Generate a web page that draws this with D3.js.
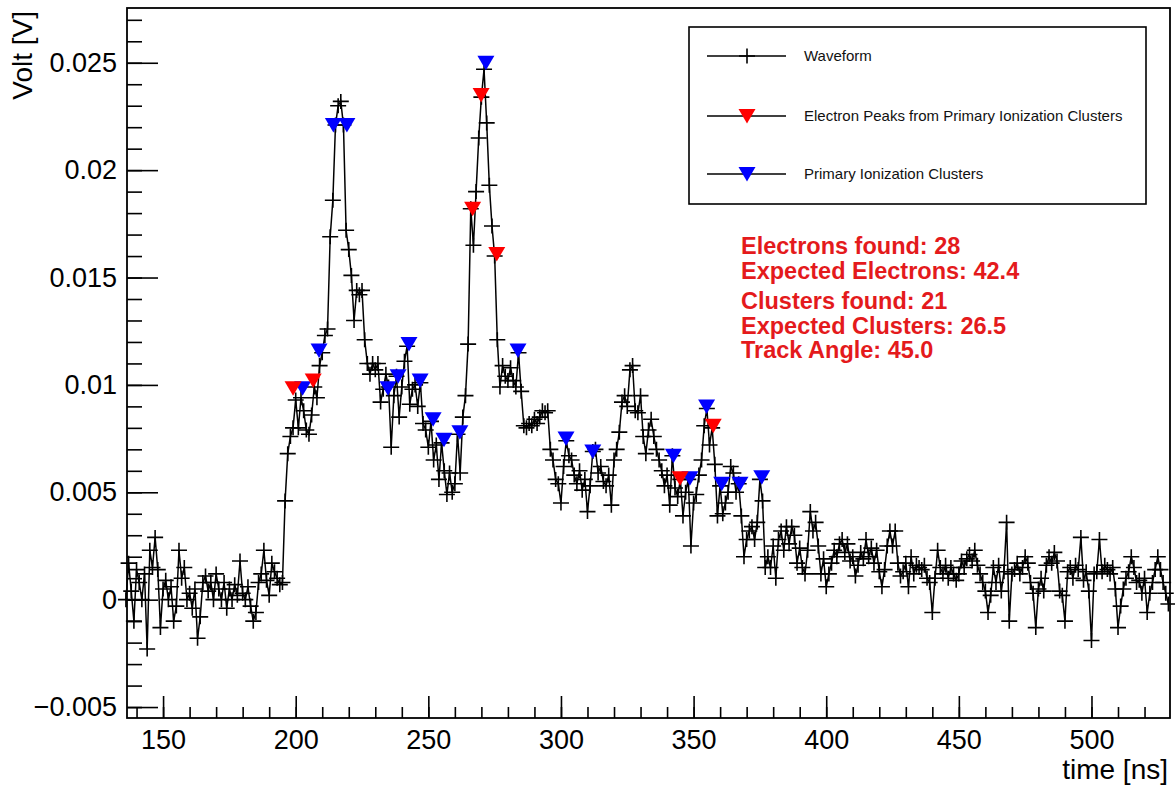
<!DOCTYPE html>
<html>
<head>
<meta charset="utf-8">
<script src="https://cdnjs.cloudflare.com/ajax/libs/d3/7.8.5/d3.min.js"></script>
<style>
  body { margin: 0; background: #fff; }
  svg text { font-family: "Liberation Sans", Arial, Helvetica, sans-serif; }
</style>
</head>
<body>
<div id="chart"></div>
<script>
// waveform sampling (ns) and samples in mV
const t0 = 136;
const dt = 1;
const waveform = [
  0.0, 1.7, 0.4, -1.0, 1.4, 0.8, 0.0, 1.2, -2.3, 2.3,
  1.5, 2.9, 1.4, -1.3, 0.5, 0.9, 0.0, 0.6, -1.0, -0.3,
  2.3, 1.0, 1.5, 0.0, 0.3, -0.4, 0.5, -1.8, -0.8, 0.8,
  1.1, 0.4, 0.8, 0.0, 1.2, 0.5, 0.0, 0.8, -0.4, 0.5,
  0.0, 0.7, 0.2, 1.8, 0.3, 0.0, 0.6, -0.3, -1.0, -0.6,
  0.8, 1.2, 2.3, 0.9, 0.2, 1.7, 1.3, 1.0, 0.7, 0.8,      // 136-195
  4.6, 6.8, 7.6, 8.0, 9.3, 8.0, 9.4, 8.8, 7.9, 7.7,      // 196-205
  8.6, 9.9, 9.4, 10.9, 11.5, 12.3, 12.6, 16.9, 18.6, 22.1,
  23.0, 23.2, 22.1, 17.2, 16.3, 15.1, 13.0, 14.4, 14.2, 14.4,
  12.1, 11.0, 10.5, 11.0, 10.7, 11.0, 9.2, 9.8, 10.5, 9.9,
  7.1, 9.5, 10.4, 8.5, 9.9, 11.1, 11.8, 9.1, 9.8, 10.0,  // 236-245
  9.0, 10.1, 8.2, 7.9, 7.1, 8.3, 6.5, 7.2, 5.6, 7.3,
  6.0, 4.9, 5.9, 5.0, 5.4, 7.7, 5.9, 8.5, 9.5, 11.9,
  18.2, 16.5, 19.0, 21.5, 23.4, 24.7, 22.2, 19.3, 17.4, 16.0,  // 266-275
  12.1, 9.9, 10.9, 10.4, 10.2, 10.8, 10.2, 9.9, 11.5, 9.7,
  8.1, 8.0, 8.2, 8.1, 8.4, 8.2, 8.5, 8.8, 8.7, 8.8,
  7.0, 6.5, 5.6, 5.4, 4.5, 6.2, 7.4, 6.7, 6.5, 5.8,      // 296-305
  5.4, 6.0, 5.1, 5.6, 4.1, 5.3, 6.9, 7.0, 5.9, 6.2,
  5.5, 5.3, 5.8, 4.4, 6.5, 7.0, 7.8, 9.2, 9.5, 9.0,
  10.7, 10.9, 8.8, 8.7, 9.5, 7.6, 6.8, 7.9, 8.4, 7.6,    // 326-335
  7.0, 6.5, 6.0, 5.3, 5.8, 4.4, 6.7, 5.2, 4.8, 5.6,
  3.9, 5.0, 5.6, 2.5, 4.5, 4.9, 5.8, 6.5, 8.1, 8.9,
  7.2, 8.0, 6.3, 3.9, 5.3, 4.0, 4.5, 5.0, 6.2, 5.9,      // 356-365
  5.0, 5.4, 3.9, 2.0, 2.8, 3.2, 3.4, 2.8, 3.6, 5.6,
  4.6, 1.5, 2.0, 1.5, 2.5, 1.0, 2.8, 3.2, 2.3, 3.4,
  2.6, 3.4, 3.0, 1.7, 2.4, 1.5, 1.2, 2.3, 4.1, 3.2,      // 386-395
  3.6, 2.5, 1.2, 1.9, 0.6, 1.2, 1.7, 2.3, 2.0, 2.6,
  2.8, 2.2, 2.6, 1.8, 2.0, 1.1, 1.6, 2.2, 1.9, 2.8,
  2.0, 2.4, 1.7, 2.3, 1.3, 0.6, 1.4, 2.5, 3.2, 2.5,      // 416-425
  3.2, 1.7, 1.1, 1.3, 1.7, 0.6, 2.0, 1.2, 1.6, 1.5,
  1.4, 1.6, 1.0, 0.8, -0.6, 1.0, 2.3, 1.5, 1.2, 1.6,
  1.0, 1.5, 1.2, 0.9, 1.2, 1.8, 1.5, 1.9, 2.1, 1.8,      // 446-455
  2.3, 1.6, 1.2, 0.8, 0.4, -0.6, 0.2, 1.5, 0.8, 1.6,
  0.4, 1.3, 3.6, -1.0, 1.2, 1.4, 1.7, 1.2, 1.5, 2.0,
  1.7, 0.8, 0.3, -1.3, 0.5, 1.0, 0.4, 1.6, 2.0, 1.7,     // 476-485
  2.2, 1.8, 0.4, 0.2, -1.0, 1.3, 1.5, 1.0, 1.6, 1.4,
  2.9, 0.9, 1.3, 0.4, -1.9, 1.2, 1.3, 2.8, 1.3, 1.6,
  1.4, 1.2, 1.5, 0.5, -1.3, -0.3, 0.5, 1.0, 1.3, 2.0,    // 506-515
  1.5, 0.8, 0.9, 0.3, 1.0, -0.6, 0.3, 0.8, 1.4, 2.0,
  1.4, 0.8, 0.3, -0.2                                     // 526-529
];

// electron peaks (red) and primary ionization clusters (blue): time ns, mV
const electronT = [199.0, 206.6, 266.7, 269.9, 275.8, 344.9, 357.4];
const electronV = [9.85, 10.2, 18.2, 23.5, 16.1, 5.65, 8.1];
const clusterT = [202.6, 208.8, 214.2, 219.3, 234.8, 238.6, 242.7, 246.9, 251.8, 255.9, 261.9,
                  271.7, 283.8, 301.9, 312.0, 342.4, 348.6, 354.9, 360.6, 367.5, 375.7];
const clusterV = [9.85, 11.6, 22.1, 22.1, 9.85, 10.4, 11.9, 10.2, 8.4, 7.45, 7.8,
                  25.0, 11.6, 7.5, 6.9, 6.7, 5.65, 9.0, 5.4, 5.4, 5.7];

const legendLabels = ["Waveform", "Electron Peaks from Primary Ionization Clusters", "Primary Ionization Clusters"];
const infoLines = ["Electrons found: 28", "Expected Electrons: 42.4", "Clusters found: 21",
                   "Expected Clusters: 26.5", "Track Angle: 45.0"];

const xMajor = [150, 200, 250, 300, 350, 400, 450, 500];
const yMajor = [-5, 0, 5, 10, 15, 20, 25];

const W = 1175, H = 787;
const frame = { left: 127, right: 1170, top: 8, bottom: 718 };

const x = d3.scaleLinear().domain([136.4, 529.6]).range([frame.left, frame.right]);
const y = d3.scaleLinear().domain([-5.51, 27.55]).range([frame.bottom, frame.top]);

const svg = d3.select("#chart").append("svg")
  .attr("width", W)
  .attr("height", H);

// minor ticks first, then majors with labels
const xMinor = d3.range(140, 530, 10);
const yMinor = d3.range(-5, 28, 1);

svg.append("g")
  .attr("transform", `translate(0,${frame.bottom})`)
  .call(d3.axisBottom(x).tickValues(xMinor).tickSize(-11).tickFormat(""))
  .call(g => g.select(".domain").remove());
svg.append("g")
  .attr("class", "xaxis")
  .attr("transform", `translate(0,${frame.bottom})`)
  .call(d3.axisBottom(x).tickValues(xMajor).tickSize(-22).tickPadding(12))
  .call(g => g.select(".domain").remove());

const fmtV = d => d === 0 ? "0" : String(+(d / 1000).toFixed(3)).replace("-", "\u2212");
svg.append("g")
  .attr("transform", `translate(${frame.left},0)`)
  .call(d3.axisLeft(y).tickValues(yMinor).tickSize(-15).tickFormat(""))
  .call(g => g.select(".domain").remove());
svg.append("g")
  .attr("class", "yaxis")
  .attr("transform", `translate(${frame.left},0)`)
  .call(d3.axisLeft(y).tickValues(yMajor).tickSize(-31).tickPadding(10).tickFormat(fmtV))
  .call(g => g.select(".domain").remove());

svg.selectAll(".tick line").attr("stroke", "#000").attr("stroke-width", 1.6);
svg.selectAll(".xaxis text, .yaxis text")
  .attr("font-size", 27)
  .attr("fill", "#000")
  .style("font-family", "'Liberation Sans', Arial, sans-serif");

// frame
svg.append("rect")
  .attr("x", frame.left).attr("y", frame.top)
  .attr("width", frame.right - frame.left).attr("height", frame.bottom - frame.top)
  .attr("fill", "none").attr("stroke", "#000").attr("stroke-width", 1.8);

// axis titles
svg.append("text")
  .attr("transform", `translate(32,${frame.top + 3}) rotate(-90)`)
  .attr("text-anchor", "end")
  .attr("font-size", 28)
  .text("Volt [V]");
svg.append("text")
  .attr("x", frame.right - 2).attr("y", 779)
  .attr("text-anchor", "end")
  .attr("font-size", 28)
  .text("time [ns]");

// waveform
const pts = waveform.map((v, i) => [t0 + i * dt, v]);
const plot = svg.append("g");
plot.append("path")
  .datum(pts)
  .attr("fill", "none")
  .attr("stroke", "#000")
  .attr("stroke-width", 1.5)
  .attr("d", d3.line().x(d => x(d[0])).y(d => y(d[1])));

const crossPath = "M-8,0H8M0,-7.5V7.5";
const triPath = "M-8.5,-7L8.5,-7L0,7.5Z";

plot.selectAll(".cross")
  .data(pts)
  .join("path")
  .attr("class", "cross")
  .attr("transform", d => `translate(${x(d[0])},${y(d[1])})`)
  .attr("d", crossPath)
  .attr("stroke", "#000")
  .attr("stroke-width", 1.6)
  .attr("fill", "none");

plot.selectAll(".cluster")
  .data(clusterT.map((t, i) => [t, clusterV[i]]))
  .join("path")
  .attr("class", "cluster")
  .attr("transform", d => `translate(${x(d[0])},${y(d[1])})`)
  .attr("d", triPath)
  .attr("fill", "#0000ff");

plot.selectAll(".electron")
  .data(electronT.map((t, i) => [t, electronV[i]]))
  .join("path")
  .attr("class", "electron")
  .attr("transform", d => `translate(${x(d[0])},${y(d[1])})`)
  .attr("d", triPath)
  .attr("fill", "#ff0000");

// legend
const leg = svg.append("g");
leg.append("rect")
  .attr("x", 689).attr("y", 27)
  .attr("width", 457).attr("height", 177)
  .attr("fill", "#fff").attr("stroke", "#000").attr("stroke-width", 1.6);
const legendY = [56, 116, 174];
const legendMark = [
  { d: crossPath, fill: "none", stroke: "#000" },
  { d: triPath, fill: "#ff0000", stroke: "none" },
  { d: triPath, fill: "#0000ff", stroke: "none" }
];
legendLabels.forEach((lab, i) => {
  const ly = legendY[i];
  leg.append("line")
    .attr("x1", 707).attr("x2", 786).attr("y1", ly).attr("y2", ly)
    .attr("stroke", "#000").attr("stroke-width", 1.5);
  leg.append("path")
    .attr("transform", `translate(747,${ly})`)
    .attr("d", legendMark[i].d)
    .attr("fill", legendMark[i].fill)
    .attr("stroke", legendMark[i].stroke)
    .attr("stroke-width", 1.6);
  leg.append("text")
    .attr("x", 804).attr("y", ly + 5)
    .attr("font-size", 15)
    .attr("fill", "#111")
    .text(lab);
});

// info box text
const infoY = [254, 279, 309, 334, 358];
infoLines.forEach((s, i) => {
  svg.append("text")
    .attr("x", 741).attr("y", infoY[i])
    .attr("font-size", 23.5)
    .attr("font-weight", "bold")
    .attr("fill", "#e41a1c")
    .text(s);
});
</script>
</body>
</html>
